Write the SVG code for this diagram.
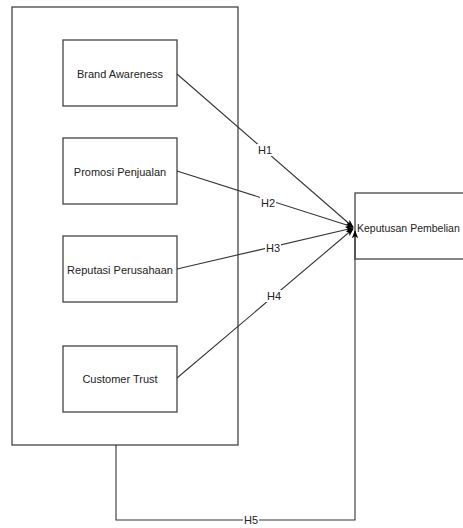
<svg xmlns="http://www.w3.org/2000/svg" width="463" height="528" viewBox="0 0 463 528">
<style>
.box{fill:#fff;stroke:#444;stroke-width:1.3}
.t{font-family:"Liberation Sans",Arial,sans-serif;font-size:11px;fill:#222;text-anchor:middle;dominant-baseline:central}
.e{fill:none;stroke:#333;stroke-width:1.1}
.lb{fill:#fff}
</style>
<defs>
<marker id="arr" viewBox="0 0 10 10" refX="9" refY="5" markerWidth="8" markerHeight="8" orient="auto" markerUnits="userSpaceOnUse">
<path d="M0,1 L10,5 L0,9 L2.5,5 Z" fill="#000"/>
</marker>
</defs>
<rect width="463" height="528" fill="#fff"/>
<g id="group-outer"><rect class="box" x="12" y="7" width="226" height="438"/></g>
<g id="node-brand"><rect class="box" x="63" y="40" width="114" height="66"/><text class="t" x="120" y="74">Brand Awareness</text></g>
<g id="node-promosi"><rect class="box" x="63" y="138" width="114" height="66"/><text class="t" x="120" y="172">Promosi Penjualan</text></g>
<g id="node-reputasi"><rect class="box" x="63" y="236" width="114" height="66"/><text class="t" x="120" y="270">Reputasi Perusahaan</text></g>
<g id="node-trust"><rect class="box" x="63" y="346" width="114" height="66"/><text class="t" x="120" y="379">Customer Trust</text></g>
<g id="node-keputusan"><rect class="box" x="355" y="193" width="115" height="66"/><text class="t" x="357" y="228" style="text-anchor:start;font-size:10.5px">Keputusan Pembelian</text></g>
<g id="connectors">
<path class="e" d="M177,74 L353,227" marker-end="url(#arr)"/>
<path class="e" d="M177,171 L353,227" marker-end="url(#arr)"/>
<path class="e" d="M177,269 L353,228" marker-end="url(#arr)"/>
<path class="e" d="M177,378 L353,229" marker-end="url(#arr)"/>
<path class="e" d="M116,445 L116,520 L355,520 L355,231" marker-end="url(#arr)"/>
<rect class="lb" x="257" y="144" width="16" height="12"/><text class="t" x="265" y="150">H1</text>
<rect class="lb" x="260" y="197" width="16" height="12"/><text class="t" x="268" y="203">H2</text>
<rect class="lb" x="265" y="242" width="16" height="12"/><text class="t" x="273" y="248">H3</text>
<rect class="lb" x="266" y="290" width="16" height="12"/><text class="t" x="274" y="296">H4</text>
<rect class="lb" x="243" y="514" width="16" height="12"/><text class="t" x="251" y="520">H5</text>
</g>
</svg>
